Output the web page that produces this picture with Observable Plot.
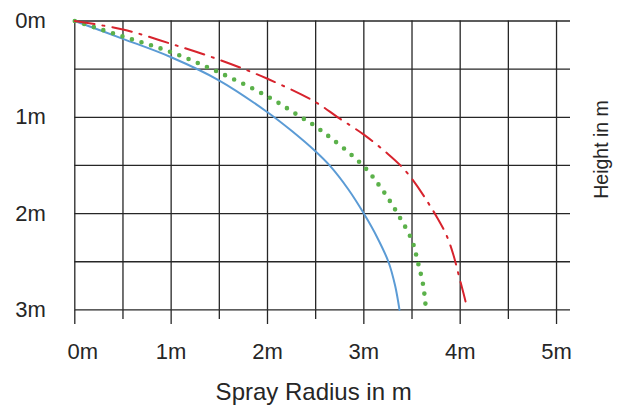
<!DOCTYPE html>
<html>
<head>
<meta charset="utf-8">
<script src="https://cdn.jsdelivr.net/npm/d3@7"></script>
<script src="https://cdn.jsdelivr.net/npm/@observablehq/plot@0.6"></script>
<style>
  html, body { margin: 0; padding: 0; background: #fff; }
</style>
</head>
<body>
<div id="chart"></div>
<script>
// Tick values
const xMajorTicks = [0, 1, 2, 3, 4, 5];
const xMinorTicks = [0.5, 1.5, 2.5, 3.5, 4.5];
const yTicks = [0, 1, 2, 3];
const xGrid = [0, 0.5, 1, 1.5, 2, 2.5, 3, 3.5, 4, 4.5, 5];
const yGrid = [0, 0.5, 1, 1.5, 2, 2.5, 3];

// Series 1 (blue solid): radius and height in m
const blueRadius = [0, 0.5, 1.0, 1.5, 2.0, 2.25, 2.5, 2.645, 2.84, 3.0, 3.14, 3.255, 3.325, 3.37];
const blueHeight = [0, 0.185, 0.376, 0.618, 0.947, 1.14, 1.355, 1.5, 1.75, 2.0, 2.25, 2.5, 2.75, 3.0];

// Series 2 (green dotted)
const greenRadius = [0, 0.5, 1.0, 1.5, 2.0, 2.35, 2.5, 2.99, 3.19, 3.35, 3.5, 3.56, 3.617, 3.645];
const greenHeight = [0, 0.161, 0.324, 0.535, 0.783, 1.0, 1.095, 1.5, 1.75, 2.0, 2.28, 2.5, 2.75, 3.0];

// Series 3 (red dash-dot)
const redRadius = [0, 0.5, 1.0, 1.5, 2.0, 2.5, 2.73, 3.0, 3.25, 3.4, 3.53, 3.65, 3.76, 3.86, 3.93, 3.98, 4.035, 4.06];
const redHeight = [0, 0.088, 0.237, 0.403, 0.6, 0.843, 1.0, 1.18, 1.38, 1.52, 1.68, 1.86, 2.04, 2.23, 2.43, 2.62, 2.83, 2.93];

const xLabel = "Spray Radius in m";
const yLabel = "Height in m";

const toPoints = (xs, ys) => xs.map((x, i) => ({x, y: ys[i]}));
const blue = toPoints(blueRadius, blueHeight);
const green = toPoints(greenRadius, greenHeight);
const red = toPoints(redRadius, redHeight);

const font = "'Liberation Sans', Arial, Helvetica, sans-serif";
const ink = "#262626";

const chart = Plot.plot({
  width: 617,
  height: 407,
  marginTop: 20.5,
  marginBottom: 97.6,
  marginLeft: 74.3,
  marginRight: 47,
  style: {fontFamily: font, color: ink, background: "#fff", overflow: "visible"},
  x: {domain: [0, 5.145]},
  y: {domain: [0, 3], reverse: true, axis: null},
  marks: [
    Plot.ruleY(yGrid, {y: d => d, stroke: ink, strokeWidth: 1.3}),
    Plot.ruleX(xGrid, {x: d => d, stroke: ink, strokeWidth: 1.3}),
    Plot.axisX({ticks: xMajorTicks, tickSize: 14.6, tickFormat: () => "", label: null, stroke: ink, strokeWidth: 1.3}),
    Plot.axisX({ticks: xMinorTicks, tickSize: 9.6, tickFormat: () => "", label: null, stroke: ink, strokeWidth: 1.3}),
    // x tick labels
    Plot.text(xMajorTicks.slice(0, 1), {x: d => d, frameAnchor: "bottom", dx: 8, dy: 33.6, lineAnchor: "top", textAnchor: "middle", text: d => d + "m", fontSize: 22, fill: ink}),
    Plot.text(xMajorTicks.slice(1), {x: d => d, frameAnchor: "bottom", dy: 33.6, lineAnchor: "top", textAnchor: "middle", text: d => d + "m", fontSize: 22, fill: ink}),
    // y tick labels
    Plot.text(yTicks, {y: d => d, frameAnchor: "left", dx: -29, textAnchor: "end", lineAnchor: "middle", text: d => d + "m", fontSize: 22, fill: ink}),
    // axis titles
    Plot.text([xLabel], {frameAnchor: "bottom", dx: -9, dy: 90, lineAnchor: "bottom", textAnchor: "middle", fontSize: 24, fill: ink}),
    Plot.text([yLabel], {frameAnchor: "right", rotate: -90, dx: 37, dy: -16, lineAnchor: "bottom", textAnchor: "middle", fontSize: 19.5, fill: ink}),
    // series
    Plot.line(blue, {x: "x", y: "y", curve: "catmull-rom", stroke: "#5b9bd5", strokeWidth: 2}),
    Plot.line(green, {x: "x", y: "y", curve: "catmull-rom", stroke: "#5bb14a", strokeWidth: 4.6, strokeDasharray: "0 10", strokeLinecap: "round"}),
    Plot.line(red, {x: "x", y: "y", curve: "catmull-rom", stroke: "#d7232d", strokeWidth: 2, strokeDasharray: "20 8 2 8"})
  ]
});
document.getElementById("chart").appendChild(chart);
</script>
</body>
</html>
